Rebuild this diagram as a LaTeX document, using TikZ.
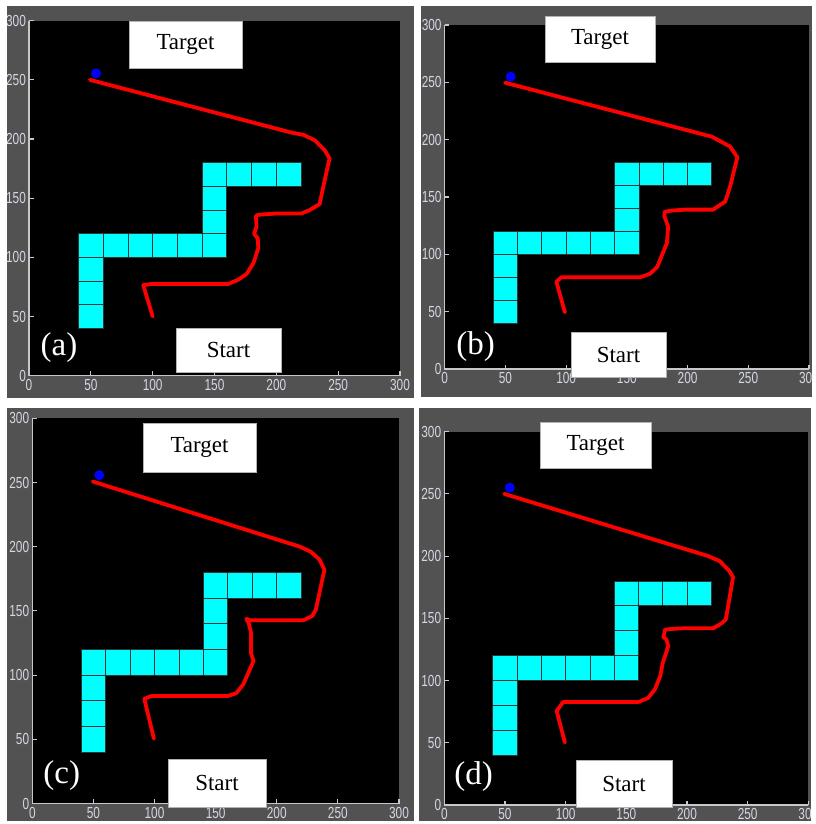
\documentclass[tikz,border=0pt]{standalone}
\usepackage{fontspec}
\newfontfamily\serifx{Liberation Serif}
\newfontfamily\sansx{Liberation Sans}
\definecolor{panelgray}{RGB}{82,82,82}
\definecolor{ticktxt}{RGB}{212,216,228}
\definecolor{axiscol}{RGB}{200,200,200}
\definecolor{obstcyan}{RGB}{0,255,255}
\tikzset{
  obst/.style={fill=obstcyan, draw=black!80, line width=0.8pt},
  axisline/.style={draw=axiscol, line width=1.1pt},
  ticklab/.style={text=ticktxt, font=\sansx\fontsize{16}{16}\selectfont, inner sep=0pt, xscale=0.74},
  redpath/.style={draw=red, line width=3.8pt, line join=round, line cap=round},
  bluedot/.style={fill=blue},
  tbox/.style={fill=white, draw=gray!60, line width=0.6pt, inner sep=0pt, font=\serifx\fontsize{23}{23}\selectfont},
  plab/.style={text=white, inner sep=0pt, font=\serifx\fontsize{33}{33}\selectfont}
}
\newcommand{\plotpanel}[7]{%
 \begin{scope}[shift={(#2,#3)}, x={(#4pt,0pt)}, y={(0pt,#5pt)}]
  \fill[black] (0,0) rectangle (300,300);
  \foreach \bx/\by in {40/40,40/60,40/80,40/100,60/100,80/100,100/100,120/100,140/100,140/120,140/140,140/160,160/160,180/160,200/160}
    \draw[obst] (\bx,\by) rectangle ++(20,20);
  \draw[axisline] (0,300) -- (0,0) -- (300,0);
  \foreach \v in {0,50,...,300}{
    \draw[axisline] (\v,0) -- ++(0pt,4.5pt);
    \draw[axisline] (0,\v) -- ++(4.5pt,0pt);
    \node[ticklab, anchor=north] (#1x\v) at ([yshift=-3.5pt]\v,0) {\v};
    \node[ticklab, anchor=east] (#1y\v) at ([xshift=-3pt]0,\v) {\v};
  }
  \draw[redpath] plot coordinates {#6};
  \fill[bluedot] (#7) circle[radius=5pt];
 \end{scope}}
\begin{document}
\begin{tikzpicture}[x=1pt, y=-1pt]
\fill[white] (0,0) rectangle (815,824);
\useasboundingbox (0,0) rectangle (815,824);

% ---- panel (a)
\fill[panelgray] (7,6) rectangle (414,398);
\begin{scope}
 \clip (7,6) rectangle (414,398);
 \plotpanel{a}{29}{375.7}{1.2367}{1.1833}{(100,50) (92.4,76.6) (99,77.5) (161,77.5) (169,81) (176,86) (181.4,95) (185.4,107.6) (185,116) (182,120) (184,126) (183.5,135) (185.4,136) (199,137) (220,137) (227,140) (235,145) (238,160) (243,183.7) (239,190.7) (231,199) (222,203.5) (212,205.5) (49.3,250)}{54.2,255.5}
 \node[tbox, minimum width=113pt, minimum height=47pt] (aT) at (185.5,44.5) {Target};
 \node[tbox, minimum width=105pt, minimum height=44pt] (aS) at (228.5,350) {Start};
 \node[plab] (aL) at (59,348) {(a)};
\end{scope}

% ---- panel (b)
\fill[panelgray] (421,6) rectangle (812,397);
\begin{scope}
 \clip (421,6) rectangle (812,397);
 \plotpanel{b}{444.7}{369}{1.2143}{1.1467}{(99,49.4) (92,76) (96,80) (161,80) (169,83) (175,89) (183,110) (184,124) (181,133) (181,137) (185.6,138) (198,139) (221,139) (231,146) (235,159) (241,184.6) (235,194) (220,202.6) (49.7,249.7)}{54.4,254.9}
 \node[tbox, minimum width=110pt, minimum height=46pt] (bT) at (600,39) {Target};
 \node[tbox, minimum width=95pt, minimum height=45pt] (bS) at (618.5,354.5) {Start};
 \node[plab] (bL) at (475.5,346.5) {(b)};
\end{scope}

% ---- panel (c)
\fill[panelgray] (7,408) rectangle (414,821);
\begin{scope}
 \clip (7,408) rectangle (414,824);
 \plotpanel{c}{32.3}{803.5}{1.2222}{1.2840}{(99.5,50.5) (91.6,81.6) (97.6,83.7) (160,83.7) (167,86) (172.6,92.8) (181,111) (179,117) (179,133) (177,140.7) (175,143.8) (178,142.8) (222,142.8) (229,146) (232,151) (239,182) (235,190) (228,196) (219,200) (49.4,250.8)}{54.8,255.7}
 \node[tbox, minimum width=113pt, minimum height=49pt] (cT) at (199.5,447.5) {Target};
 \node[tbox, minimum width=98pt, minimum height=48pt] (cS) at (217,783) {Start};
 \node[plab] (cL) at (61.7,776) {(c)};
\end{scope}

% ---- panel (d)
\fill[panelgray] (419,408) rectangle (811,821);
\begin{scope}
 \clip (419,408) rectangle (811,824);
 \plotpanel{d}{444.3}{805}{1.2133}{1.2445}{(99.4,50.2) (92.6,75.6) (98,82.8) (160,82.8) (168,86) (173.6,93) (178,103.6) (180,114) (184.6,127.7) (183,133) (180.5,135) (182,141) (189,141.6) (197,142) (221.7,142) (228.5,146) (232,149) (238,183) (235,188) (227,196) (217.6,200) (49.4,250)}{54,255}
 \node[tbox, minimum width=111pt, minimum height=46pt] (dT) at (595.5,445) {Target};
 \node[tbox, minimum width=96pt, minimum height=47pt] (dS) at (624,783.5) {Start};
 \node[plab] (dL) at (473.5,776.5) {(d)};
\end{scope}
\end{tikzpicture}
\end{document}
